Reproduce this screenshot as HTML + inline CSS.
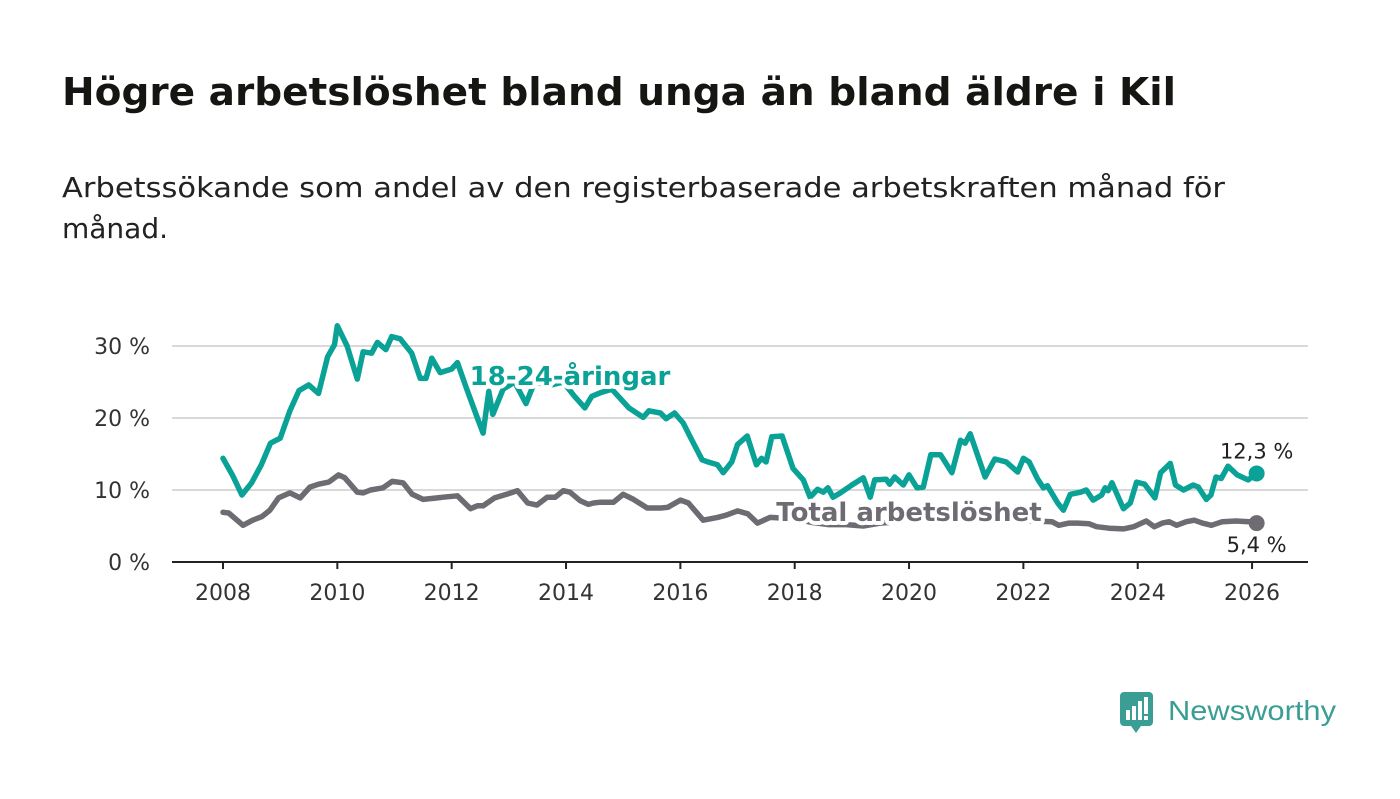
<!DOCTYPE html>
<html><head><meta charset="utf-8"><style>
html,body{margin:0;padding:0;background:#fff;}
body{width:1400px;height:794px;overflow:hidden;font-family:"Liberation Sans","DejaVu Sans",sans-serif;}
</style></head><body>
<svg id="chart" width="1400" height="794" xmlns="http://www.w3.org/2000/svg" font-family="'DejaVu Sans','Liberation Sans',sans-serif">
<text x="62" y="105" font-size="38" font-weight="bold" fill="#151511" textLength="1114" lengthAdjust="spacingAndGlyphs">Högre arbetslöshet bland unga än bland äldre i Kil</text>
<text x="62" y="197" font-size="28" fill="#222" textLength="1163" lengthAdjust="spacingAndGlyphs">Arbetssökande som andel av den registerbaserade arbetskraften månad för</text>
<text x="62" y="238" font-size="28" fill="#222">månad.</text>
<g id="grid"></g>
<g id="series"></g>
<g id="labels"></g>
<g>
<path d="M1124 692 h25 a4 4 0 0 1 4 4 v26 a4 4 0 0 1 -4 4 h-8 l-5 7 l-5 -7 h-7 a4 4 0 0 1 -4 -4 v-26 a4 4 0 0 1 4 -4 z" fill="#3a9e94"/>
<rect x="1126" y="710" width="4" height="10" fill="#fff"/><rect x="1132" y="706" width="4" height="14" fill="#fff"/><rect x="1138" y="701" width="4" height="19" fill="#fff"/><rect x="1144" y="697" width="4" height="17" fill="#fff"/><rect x="1144" y="716" width="4" height="4" fill="#fff"/>
<text x="1168" y="720" font-size="28" fill="#3a9e94" font-family="'Liberation Sans',sans-serif" textLength="168" lengthAdjust="spacingAndGlyphs">Newsworthy</text>
</g>
</svg>
<script>
const yTicks=[0,10,20,30];
const yTickLabels=["0 %","10 %","20 %","30 %"];
const xTicks=[2008,2010,2012,2014,2016,2018,2020,2022,2024,2026];
const youthDates=[2008.0,2008.17,2008.33,2008.5,2008.67,2008.83,2009.0,2009.17,2009.33,2009.5,2009.67,2009.83,2009.95,2010.0,2010.17,2010.35,2010.45,2010.6,2010.7,2010.85,2010.95,2011.1,2011.3,2011.45,2011.55,2011.65,2011.8,2012.0,2012.1,2012.25,2012.45,2012.55,2012.65,2012.72,2012.9,2013.1,2013.3,2013.45,2013.7,2013.95,2014.15,2014.33,2014.45,2014.6,2014.8,2015.1,2015.35,2015.45,2015.65,2015.75,2015.9,2016.05,2016.17,2016.38,2016.48,2016.65,2016.75,2016.9,2017.0,2017.17,2017.33,2017.42,2017.5,2017.6,2017.78,2017.97,2018.15,2018.27,2018.4,2018.5,2018.58,2018.67,2018.8,2019.0,2019.2,2019.32,2019.4,2019.6,2019.66,2019.75,2019.9,2020.0,2020.14,2020.25,2020.38,2020.55,2020.75,2020.9,2020.98,2021.07,2021.33,2021.5,2021.7,2021.9,2022.0,2022.1,2022.25,2022.35,2022.42,2022.6,2022.7,2022.82,2023.0,2023.1,2023.22,2023.37,2023.43,2023.48,2023.55,2023.75,2023.87,2023.98,2024.12,2024.3,2024.4,2024.57,2024.66,2024.8,2024.97,2025.06,2025.2,2025.28,2025.37,2025.46,2025.58,2025.74,2025.93,2026.08];
const youthValues=[14.4,12,9.3,11,13.5,16.5,17.2,21,23.8,24.6,23.4,28.5,30.2,32.8,30,25.4,29.2,29,30.5,29.5,31.3,31,29,25.5,25.5,28.3,26.3,26.8,27.7,24.3,20,17.9,23.7,20.5,24,25,22,25,24.5,25,23,21.4,23,23.5,24,21.4,20.1,21,20.7,19.9,20.7,19.3,17.4,14.2,13.9,13.5,12.4,13.9,16.3,17.5,13.5,14.4,13.9,17.4,17.5,13,11.4,9,10.1,9.7,10.3,9,9.6,10.7,11.7,9,11.4,11.5,10.8,11.8,10.7,12.1,10.3,10.4,14.9,14.9,12.4,16.9,16.5,17.8,11.8,14.3,13.9,12.5,14.4,13.9,11.5,10.3,10.6,8.2,7.2,9.4,9.7,10,8.6,9.3,10.3,9.9,11,7.4,8.2,11.1,10.8,8.9,12.4,13.7,10.7,10,10.7,10.4,8.7,9.3,11.8,11.6,13.3,12.1,11.4,12.3];
const totalDates=[2008.0,2008.1,2008.35,2008.52,2008.68,2008.82,2008.97,2009.17,2009.35,2009.52,2009.67,2009.85,2010.02,2010.13,2010.35,2010.45,2010.58,2010.8,2010.96,2011.15,2011.31,2011.5,2011.75,2011.85,2012.1,2012.33,2012.45,2012.55,2012.75,2012.96,2013.15,2013.33,2013.49,2013.67,2013.81,2013.95,2014.07,2014.25,2014.39,2014.48,2014.6,2014.83,2015.0,2015.18,2015.42,2015.54,2015.66,2015.78,2016.0,2016.14,2016.4,2016.65,2016.8,2017.0,2017.18,2017.35,2017.57,2017.8,2018.0,2018.3,2018.6,2018.9,2019.2,2019.5,2019.8,2020.1,2020.4,2020.7,2021.0,2021.3,2021.6,2021.9,2022.2,2022.5,2022.62,2022.8,2022.95,2023.15,2023.28,2023.5,2023.75,2023.93,2024.15,2024.29,2024.43,2024.55,2024.68,2024.85,2024.99,2025.13,2025.29,2025.48,2025.72,2025.95,2026.08];
const totalValues=[6.9,6.8,5.1,5.8,6.3,7.2,8.9,9.6,8.9,10.4,10.8,11.1,12.1,11.7,9.7,9.6,10,10.3,11.2,11,9.4,8.7,8.9,9,9.2,7.4,7.8,7.8,8.9,9.4,9.9,8.2,7.9,9,9,9.9,9.7,8.5,8,8.2,8.3,8.3,9.4,8.7,7.5,7.5,7.5,7.6,8.6,8.2,5.8,6.2,6.5,7.1,6.7,5.4,6.2,6.1,6,5.5,5.2,5.2,5,5.4,5.6,6.8,7,6.5,6.2,6.4,6,5.8,5.7,5.6,5.1,5.4,5.4,5.3,4.9,4.7,4.6,4.9,5.7,4.9,5.4,5.6,5.1,5.6,5.8,5.4,5.1,5.6,5.7,5.6,5.4];
const NS="http://www.w3.org/2000/svg";
const X=d=>223+(d-2008)*57.17;
const Y=v=>562-v*7.2;
function mk(tag,attrs,parent){const e=document.createElementNS(NS,tag);for(const k in attrs)e.setAttribute(k,attrs[k]);parent.appendChild(e);return e;}
const grid=document.getElementById('grid');
yTicks.forEach((t,i)=>{
  if(t>0){const l=mk('line',{x1:172,x2:1308,y1:Y(t),y2:Y(t),stroke:'#d9d9d9','stroke-width':2},grid);
  
  }
  const tx=mk('text',{x:150,y:Y(t)+8,'text-anchor':'end','font-size':22,fill:'#333'},grid);
  tx.textContent=yTickLabels[i];
  
  
});
const ax=mk('line',{x1:172,x2:1308,y1:562,y2:562,stroke:'#222','stroke-width':2},grid);


xTicks.forEach(t=>{
  const tk=mk('line',{x1:X(t),x2:X(t),y1:562,y2:569,stroke:'#222','stroke-width':2},grid);
  
  
  const tx=mk('text',{x:X(t),y:600,'text-anchor':'middle','font-size':22,fill:'#333'},grid);
  tx.textContent=String(t);
  
  
});
const s=document.getElementById('series');
function line(dates,vals,color,name){
  const d=dates.map((t,i)=>(i?'L':'M')+X(t).toFixed(1)+' '+Y(vals[i]).toFixed(1)).join(' ');
  const p=mk('path',{d:d,fill:'none',stroke:color,'stroke-width':5.5,'stroke-linejoin':'round','stroke-linecap':'round'},s);
  
  
  const n=dates.length-1;
  const c=mk('circle',{cx:X(dates[n]),cy:Y(vals[n]),r:8,fill:color},s);
  
  
}
line(totalDates,totalValues,'#6e6c72','total-line');
line(youthDates,youthValues,'#0aa296','youth-line');
const L=document.getElementById('labels');
function lab(x,y,txt,color,name,size,bold,halo){
  const t=mk('text',{x:x,y:y,'font-size':size,fill:color,'text-anchor':'middle'},L);
  if(bold)t.setAttribute('font-weight','bold');
  if(halo){t.setAttribute('stroke','#fff');t.setAttribute('stroke-width',8);t.setAttribute('paint-order','stroke');t.setAttribute('stroke-linejoin','round');}
  t.textContent=txt;
  
  
}
lab(570,385,'18-24-åringar','#0aa296','youth-series-label',26,true,true);
lab(909,521,'Total arbetslöshet','#6e6c72','total-series-label',26,true,true);
const n1=youthDates.length-1,n2=totalDates.length-1;
lab(X(youthDates[n1]),Y(youthValues[n1])-15,youthValues[n1].toFixed(1).replace('.',',')+' %','#222','youth-end-value',21,false,true);
lab(X(totalDates[n2]),Y(totalValues[n2])+29,totalValues[n2].toFixed(1).replace('.',',')+' %','#222','total-end-value',21,false,true);
</script>
</body></html>
